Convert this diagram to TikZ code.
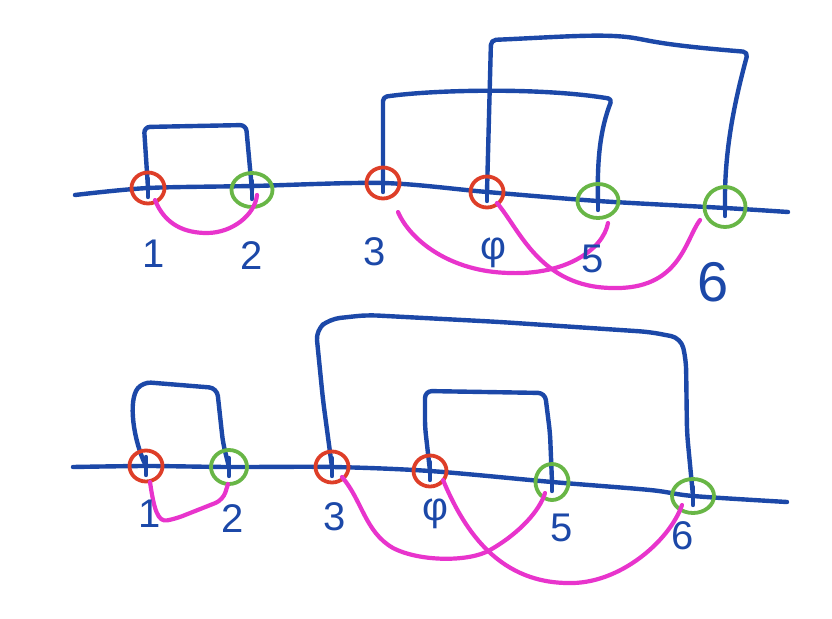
\documentclass[tikz,border=0pt]{standalone}
\usepackage{fontspec}
\setmainfont{Liberation Sans}
\usetikzlibrary{calc,shapes.geometric}
\definecolor{inkblue}{RGB}{28,72,168}
\definecolor{inkred}{RGB}{222,62,40}
\definecolor{inkgreen}{RGB}{104,182,70}
\definecolor{inkpink}{RGB}{232,52,204}
\begin{document}
\begin{tikzpicture}[x=1pt,y=-1pt,line cap=round,line join=round,
  wire/.style={draw=inkblue,line width=4.4pt},
  link/.style={draw=inkpink,line width=4.2pt},
  redmark/.style={ellipse,draw=inkred,line width=3.8pt,minimum width=33pt,minimum height=31pt,inner sep=0pt},
  greenmark/.style={ellipse,draw=inkgreen,line width=3.8pt,minimum width=41pt,minimum height=34pt,inner sep=0pt},
  lbl/.style={text=inkblue,font=\fontsize{40}{40}\selectfont},
  biglbl/.style={text=inkblue,font=\fontsize{56}{56}\selectfont}]
\useasboundingbox (0,0) rectangle (832,618);
\fill[white] (0,0) rectangle (832,618);

% ---------------- top row ----------------
\draw[wire] plot[smooth] coordinates {(75,195) (148,188) (252,186) (383,183) (487,192) (598,201) (725,208) (788,212)};
\coordinate (t1) at (148,188);
\coordinate (t2) at (252,190);
\coordinate (t3) at (383,183);
\coordinate (t4) at (487,192);
\coordinate (t5) at (598,201);
\coordinate (t6) at (725,207);
\foreach \p in {t1,t2,t3,t4,t5,t6}{\draw[wire] ($(\p)+(0,-9)$) -- ($(\p)+(0,9)$);}

\draw[wire,rounded corners=6pt] (t1) -- (144,127) -- (246,125) -- (t2);
\draw[wire,rounded corners=4pt] (t3) -- (383,97) .. controls (430,90) and (540,87) .. (612,99)
   .. controls (600,130) and (597,160) .. (t5);
\draw[wire,rounded corners=5pt] (t4) -- (491,40) .. controls (560,37) and (605,33) .. (640,39)
   .. controls (670,45) and (700,48) .. (748,52)
   .. controls (735,100) and (724,150) .. (t6);

\node[redmark] (m1) at (t1) {};
\node[greenmark] (m2) at (t2) {};
\node[redmark] (m3) at (t3) {};
\node[redmark] (m4) at (t4) {};
\node[greenmark] (m5) at (t5) {};
\node[greenmark,minimum height=40pt] (m6) at (t6) {};

\draw[link] ($(t1)+(7,12)$) .. controls (165,225) and (185,233) .. (207,233) .. controls (232,233) and (255,215) .. ($(t2)+(5,5)$);
\draw[link] ($(t3)+(15,29)$) .. controls (410,240) and (450,272) .. (510,273) .. controls (565,275) and (603,250) .. ($(t5)+(10,22)$);
\draw[link] ($(t4)+(10,11)$) .. controls (520,230) and (540,287) .. (612,288) .. controls (680,290) and (685,240) .. ($(t6)+(-25,13)$);

\node[lbl] (l1) at (154,254) {1};
\node[lbl] (l2) at (252,256) {2};
\node[lbl] (l3) at (375,252) {3};
\node[lbl] (l4) at (493,253) {φ};
\node[lbl] (l5) at (593,259) {5};
\node[biglbl] (l6) at (713,282) {6};

% ---------------- bottom row ----------------
\draw[wire] plot[smooth] coordinates {(73,467) (147,466) (228,467) (333,467) (430,471) (552,482) (650,490) (693,496) (787,502)};
\coordinate (b1) at (146,466);
\coordinate (b2) at (229,467);
\coordinate (b3) at (332,467);
\coordinate (b4) at (430,471);
\coordinate (b5) at (552,482);
\coordinate (b6) at (693,496);
\foreach \p in {b1,b2,b3,b4,b5,b6}{\draw[wire] ($(\p)+(0,-9)$) -- ($(\p)+(0,9)$);}

\draw[wire,rounded corners=8pt] (b1) .. controls (133,440) and (128,400) .. (143,382) -- (217,388) -- (223,443) -- (b2);
\draw[wire,rounded corners=10pt] (b3) -- (323,400) -- (316,330) -- (330,319) -- (367,315) -- (500,322) -- (650,332) -- (681,338) -- (686,360) -- (687,433) -- (b6);
\draw[wire,rounded corners=7pt] (b4) -- (425,427) -- (425,391) -- (545,393) -- (550,433) -- (b5);

\node[redmark] (n1) at (b1) {};
\node[greenmark,minimum width=36pt,minimum height=34pt] (n2) at (b2) {};
\node[redmark] (n3) at (b3) {};
\node[redmark] (n4) at (b4) {};
\node[greenmark,minimum width=33pt,minimum height=36pt] (n5) at (b5) {};
\node[greenmark,minimum width=42pt,minimum height=34pt] (n6) at (b6) {};

\draw[link,rounded corners=8pt] ($(b1)+(4,16)$) .. controls (154,510) and (158,522) .. (175,519) -- (223,500) -- ($(b2)+(-1,17)$);
\draw[link] ($(b3)+(10,10)$) .. controls (362,500) and (365,532) .. (393,548) .. controls (420,562) and (470,562) .. (490,550) .. controls (520,533) and (540,510) .. ($(b5)+(-7,11)$);
\draw[link] ($(b4)+(13,9)$) .. controls (462,525) and (495,582) .. (567,583) .. controls (620,585) and (670,540) .. ($(b6)+(-11,9)$);

\node[lbl] (k1) at (150,514) {1};
\node[lbl] (k2) at (233,519) {2};
\node[lbl] (k3) at (335,517) {3};
\node[lbl] (k4) at (435,514) {φ};
\node[lbl] (k5) at (562,528) {5};
\node[lbl] (k6) at (683,536) {6};
\end{tikzpicture}
\end{document}
